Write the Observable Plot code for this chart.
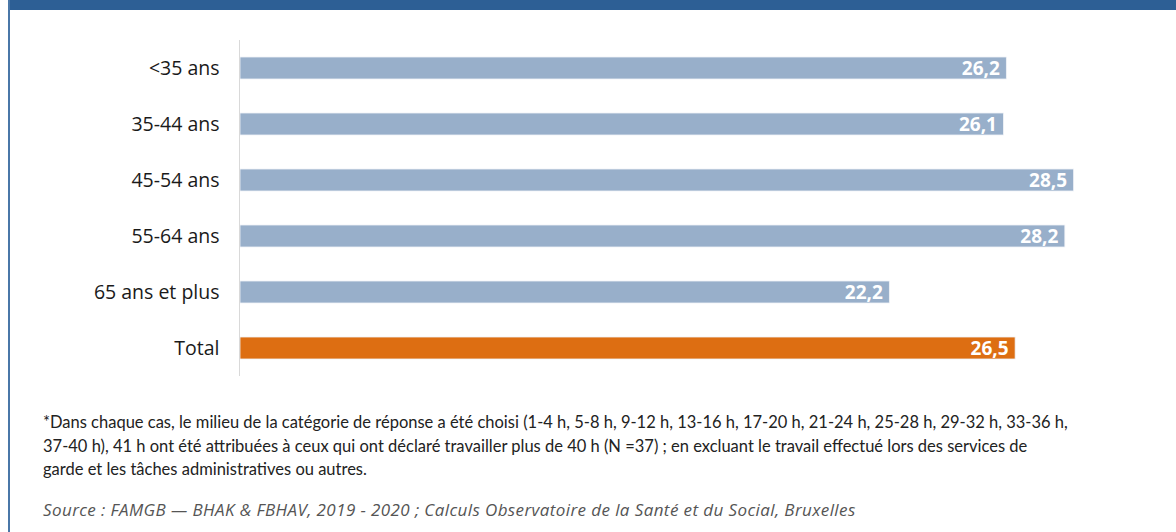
<!DOCTYPE html>
<html>
<head>
<meta charset="utf-8">
<script src="https://cdn.jsdelivr.net/npm/d3@7"></script>
<script src="https://cdn.jsdelivr.net/npm/@observablehq/plot@0.6"></script>
<style>
  html, body { margin: 0; padding: 0; background: #fff; width: 1176px; height: 532px; overflow: hidden; }
  #topbar { position: absolute; left: 8px; top: 0; width: 1168px; height: 10px; background: #2D5F95; }
  #leftline { position: absolute; left: 8px; top: 0; width: 2px; height: 532px; background: #4A77A8; }
  #chart { position: absolute; left: 0; top: 0; }
  .note { position: absolute; left: 43px; font-family: "Lato", sans-serif; font-size: 16.5px; color: #222; line-height: 23.5px; white-space: nowrap; }
  .src { position: absolute; left: 43px; font-family: "Open Sans", sans-serif; font-size: 17px; letter-spacing: 0.4px; font-style: italic; color: #555; white-space: nowrap; }
</style>
</head>
<body>
<div id="chart"></div>
<div id="topbar"></div>
<div id="leftline"></div>
<div class="note" id="note" style="top:411px"></div>
<div class="src" id="src" style="top:498px"></div>
<script>
const categories = ["<35 ans", "35-44 ans", "45-54 ans", "55-64 ans", "65 ans et plus", "Total"];
const values = [26.2, 26.1, 28.5, 28.2, 22.2, 26.5];
const groups = ["age", "age", "age", "age", "age", "total"];
const noteLines = [
  "*Dans chaque cas, le milieu de la catégorie de réponse a été choisi (1-4 h, 5-8 h, 9-12 h, 13-16 h, 17-20 h, 21-24 h, 25-28 h, 29-32 h, 33-36 h,",
  "37-40 h), 41 h ont été attribuées à ceux qui ont déclaré travailler plus de 40 h (N =37) ; en excluant le travail effectué lors des services de",
  "garde et les tâches administratives ou autres."
];
const sourceText = "Source : FAMGB — BHAK & FBHAV, 2019 - 2020 ; Calculs Observatoire de la Santé et du Social, Bruxelles";

const data = categories.map((c, i) => ({category: c, value: values[i], group: groups[i]}));
const fmt = v => d3.format(".1f")(v).replace(".", ",");

const chart = Plot.plot({
  width: 1176,
  height: 390,
  marginLeft: 240,
  marginRight: 0,
  marginTop: 40,
  marginBottom: 14,
  style: { fontFamily: "'Open Sans', sans-serif", background: "transparent" },
  x: { domain: [0, 32], axis: null },
  y: { domain: categories, paddingInner: 0.6, paddingOuter: 0.3, label: null },
  color: { domain: ["age", "total"], range: ["#98AFCA", "#DD6E12"] },
  marks: [
    Plot.barX(data, { x: "value", y: "category", fill: "group", stroke: "#f0f3f7", strokeWidth: 0.8 }),
    Plot.ruleX([0], { stroke: "#d9d9d9", strokeWidth: 1, dx: -1 }),
    Plot.text(data, { x: "value", y: "category", text: d => fmt(d.value), dx: -7, textAnchor: "end", fill: "white", fontWeight: "bold", fontSize: 19 }),
    Plot.axisY({ tickSize: 0, tickPadding: 21, fontSize: 19.5, color: "#1a1a1a", label: null })
  ]
});
document.getElementById("chart").appendChild(chart);
document.getElementById("note").innerHTML = noteLines.join("<br>");
document.getElementById("src").textContent = sourceText;
</script>
</body>
</html>
